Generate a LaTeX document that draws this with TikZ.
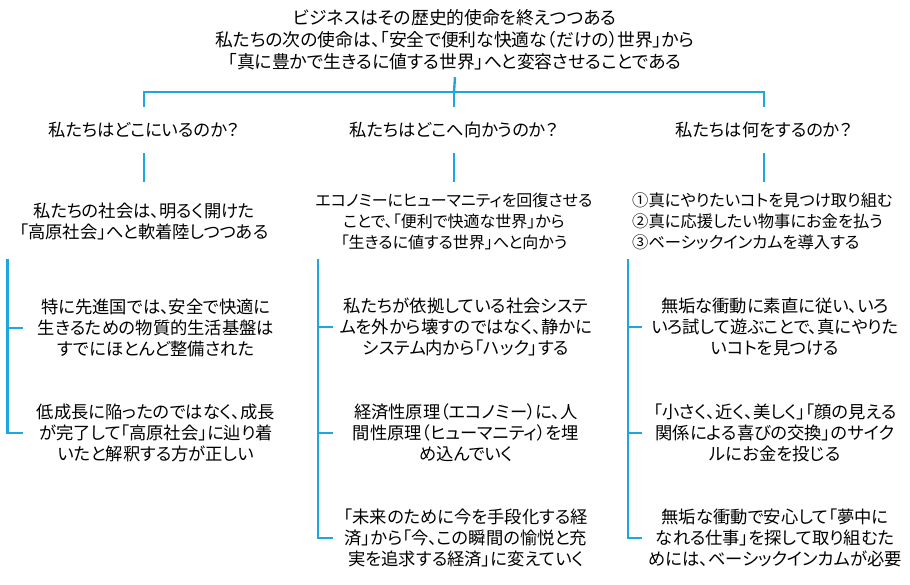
\documentclass[tikz,border=0pt]{standalone}
\usepackage{fontspec}
\setmainfont{Noto Sans CJK JP}[RawFeature=+palt]
\definecolor{linkblue}{RGB}{29,166,224}
\begin{document}
\begin{tikzpicture}[x=1pt,y=-1pt,
  conn/.style={draw=linkblue,line width=2.4pt},
  txt/.style={inner sep=0pt,align=center,font=\fontsize{17.3}{21}\selectfont},
  head/.style={txt,minimum height=46pt},
  sub/.style={txt,minimum height=78pt},
  item/.style={txt,minimum width=266pt}]
\useasboundingbox (0,0) rectangle (910,584);
\node[txt,font=\fontsize{17.8}{22}\selectfont,minimum height=74pt] (title) at (455,40)
  {ビジネスはその歴史的使命を終えつつある\\私たちの次の使命は、「安全で便利な快適な（だけの）世界」から\\「真に豊かで生きるに値する世界」へと変容させることである};
\coordinate (hub) at (454,92);
\node[head] (h1) at (144,130) {私たちはどこにいるのか？};
\node[head] (h2) at (454,130) {私たちはどこへ向かうのか？};
\node[head] (h3) at (764,130) {私たちは何をするのか？};
\node[sub] (s1) at (144,221) {私たちの社会は、明るく開けた\\「高原社会」へと軟着陸しつつある};
\node[sub,font=\fontsize{16}{21}\selectfont] (s2) at (454,221) {エコノミーにヒューマニティを回復させる\\ことで、「便利で快適な世界」から\\「生きるに値する世界」へと向かう};
\node[sub,font=\fontsize{16.3}{21}\selectfont,align=left,anchor=west] (s3) at (632,221) {①真にやりたいコトを見つけ取り組む\\②真に応援したい物事にお金を払う\\③ベーシックインカムを導入する};
\node[item] (a1) at (156,328) {特に先進国では、安全で快適に\\生きるための物質的生活基盤は\\すでにほとんど整備された};
\node[item] (a2) at (156,433) {低成長に陥ったのではなく、成長\\が完了して「高原社会」に辿り着\\いたと解釈する方が正しい};
\node[item] (b1) at (466,327) {私たちが依拠している社会システ\\ムを外から壊すのではなく、静かに\\システム内から「ハック」する};
\node[item] (b2) at (466,433) {経済性原理（エコノミー）に、人\\間性原理（ヒューマニティ）を埋\\め込んでいく};
\node[item] (b3) at (466,538) {「未来のために今を手段化する経\\済」から「今、この瞬間の愉悦と充\\実を追求する経済」に変えていく};
\node[item] (c1) at (775,327) {無垢な衝動に素直に従い、いろ\\いろ試して遊ぶことで、真にやりた\\いコトを見つける};
\node[item] (c2) at (775,433) {「小さく、近く、美しく」「顔の見える\\関係による喜びの交換」のサイク\\ルにお金を投じる};
\node[item] (c3) at (775,538) {無垢な衝動で安心して「夢中に\\なれる仕事」を探して取り組むた\\めには、ベーシックインカムが必要};
% top tree
\draw[conn] (title.south) -- (hub);
\draw[conn] (h1.north) -- (h1.north |- hub) -- (h3.north |- hub) -- (h3.north);
\draw[conn] (hub) -- (h2.north);
\draw[conn] (h1.south) -- (s1.north);
\draw[conn] (h2.south) -- (s2.north);
\draw[conn] (h3.south) -- (h3.south |- s3.north);
% brackets
\coordinate (k1) at (7.5,259);
\coordinate (k2) at (318,259);
\coordinate (k3) at (628,259);
\draw[conn] (k1) |- (a2.west);
\draw[conn] (k1 |- a1.west) -- (a1.west);
\draw[conn] (k2) |- (b3.west);
\draw[conn] (k2 |- b1.west) -- (b1.west);
\draw[conn] (k2 |- b2.west) -- (b2.west);
\draw[conn] (k3) |- (c3.west);
\draw[conn] (k3 |- c1.west) -- (c1.west);
\draw[conn] (k3 |- c2.west) -- (c2.west);
\end{tikzpicture}
\end{document}
